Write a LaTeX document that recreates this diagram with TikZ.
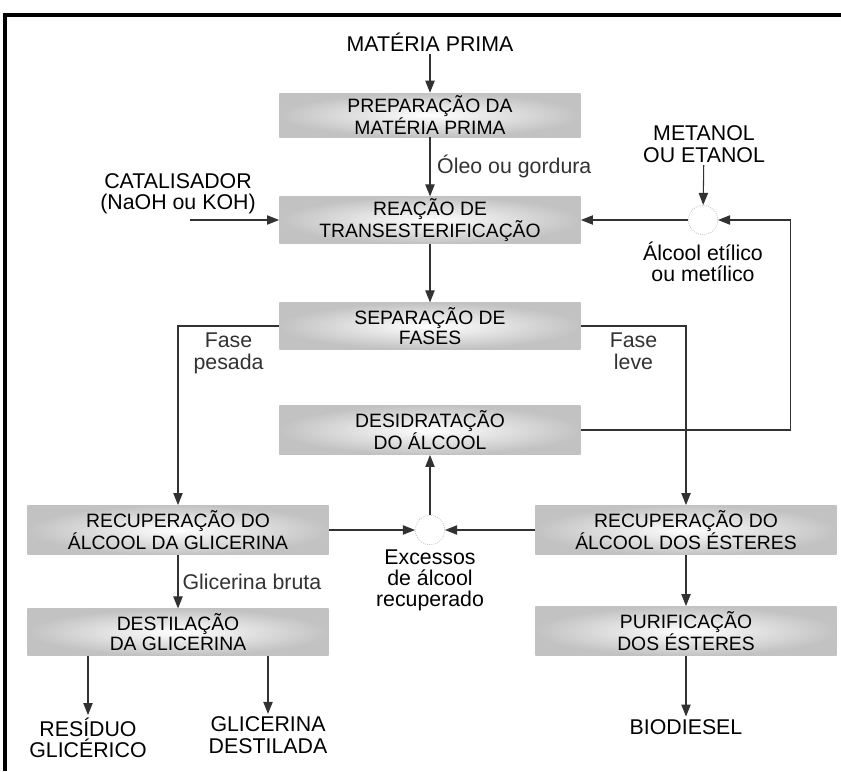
\documentclass[tikz,border=0pt]{standalone}
\usepackage{fontspec}
\setmainfont{Liberation Sans}
\usetikzlibrary{positioning,arrows.meta}
\definecolor{boxgray}{RGB}{194,194,194}
\definecolor{linegray}{RGB}{50,50,50}
\newcommand{\pbox}[3]{
    \node(#1)[
        minimum width=226pt,
        minimum height=35pt,
        inner sep=0pt,
        %text centered,
        align=center,
        font=\fontsize{14.5}{15.5}\selectfont,
        inner color=white,
        outer color=boxgray,
        #2
    ]{#3};
}
\newcommand{\mixer}[2]{
    \node(#1)[
        circle,
        draw=lightgray,
        densely dotted,
        line width=0.6pt,
        minimum size=22pt,
        inner sep=0pt,
        #2
    ]{};
}
\tikzset{
    arr/.style={-{Triangle[length=9pt,width=7pt]}, line width=0.8pt, color=linegray},
    lbl/.style={align=center, inner sep=2pt}
}

\begin{document}
\begin{tikzpicture}[x=0.75pt, y=-0.75pt, font=\fontsize{16}{16}\selectfont]
	\useasboundingbox (0,0) rectangle (841,771);
	\draw[line width=3pt] (3,15) -- (841,15);
	\draw[line width=3pt] (5,13) -- (5,771);

	\node(mp)[lbl] at (430,42) {MATÉRIA PRIMA};
	\pbox{prep}{at={(430,115)}, minimum height=33pt}{PREPARAÇÃO DA\\MATÉRIA PRIMA}
	\pbox{reac}{at={(430,220)}}{REAÇÃO DE\\TRANSESTERIFICAÇÃO}
	\pbox{sep}{at={(430,326)}}{SEPARAÇÃO DE\\FASES}
	\pbox{desid}{at={(430,430)}, minimum height=37pt}{DESIDRATAÇÃO\\DO ÁLCOOL}
	\pbox{recgli}{at={(178,530)}, minimum height=37pt}{RECUPERAÇÃO DO\\ÁLCOOL DA GLICERINA}
	\pbox{receste}{at={(686,530)}, minimum height=37pt}{RECUPERAÇÃO DO\\ÁLCOOL DOS ÉSTERES}
	\pbox{destil}{at={(178,632)}}{DESTILAÇÃO\\DA GLICERINA}
	\pbox{purif}{at={(686,631)}, minimum height=37pt}{PURIFICAÇÃO\\DOS ÉSTERES}

	\node(cat)[lbl] at (178,194) {CATALISADOR\\(NaOH ou KOH)};
	\coordinate (catin) at (190,220);
	\node(metanol)[lbl] at (704,144) {METANOL\\OU ETANOL};
	\mixer{mix1}{at={(703,220)}}
	\node(alcool)[lbl, below=3pt of mix1] {Álcool etílico\\ou metílico};
	\mixer{mix2}{at={(430,530)}}
	\node(exc)[lbl, below=1pt of mix2] {Excessos\\de álcool\\recuperado};

	\node(residuo)[lbl] at (88,738) {RESÍDUO\\GLICÉRICO};
	\node(glicdest)[lbl] at (268,735) {GLICERINA\\DESTILADA};
	\node(biodiesel)[lbl] at (686,727) {BIODIESEL};

	\draw[arr] (mp) -- (prep);
	\draw[arr] (prep) -- (reac) node[midway, right, inner sep=5pt] (oleo) {Óleo ou gordura};
	\draw[arr] (catin) -- (reac);
	\draw[arr] (metanol) -- (mix1);
	\draw[arr] (mix1) -- (reac);
	\draw[arr] (desid.east) -- ++(210,0) |- (mix1.east);
	\draw[arr] (reac) -- (sep);

	\draw[arr] (sep.west) -| (recgli.north)
	node[pos=0.25, below, lbl, yshift=-3pt] (pesada) {Fase\\pesada};
	\draw[arr] (sep.east) -| (receste.north)
	node[pos=0.25, below, lbl, yshift=-3pt] (leve) {Fase\\leve};

	\draw[arr] (mix2) -- (desid);
	\draw[arr] (recgli) -- (mix2);
	\draw[arr] (receste) -- (mix2);

	\draw[arr] (recgli) -- (destil) node[midway, right, inner sep=3pt] (bruta) {Glicerina bruta};
	\draw[arr] (destil.south -| residuo) -- (residuo);
	\draw[arr] (destil.south -| glicdest) -- (glicdest);
	\draw[arr] (receste) -- (purif);
	\draw[arr] (purif) -- (biodiesel);
\end{tikzpicture}
\end{document}
